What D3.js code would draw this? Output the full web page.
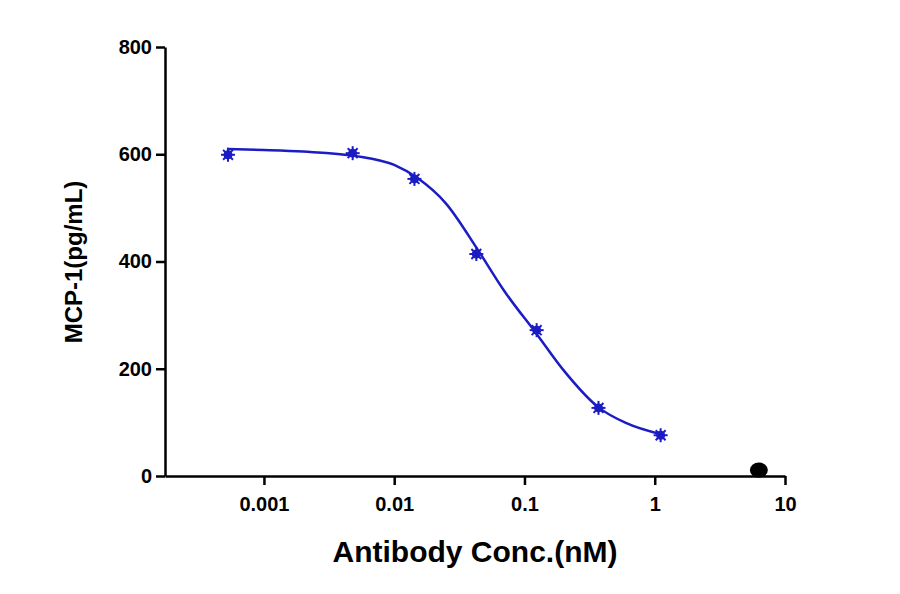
<!DOCTYPE html>
<html><head><meta charset="utf-8">
<script src="https://cdn.jsdelivr.net/npm/d3@7"></script>
<style>body{margin:0;background:#fff}text{font-family:"Liberation Sans",Arial,sans-serif;font-weight:bold}</style>
</head><body><svg id="c" width="900" height="594"></svg>
<script>
const pointsX=[0.00053,0.0048,0.0143,0.0427,0.124,0.37,1.11];
const pointsY=[599,602,554,414,272,127,76];
const curveX=[0.00052,0.001,0.002,0.005,0.01,0.015,0.025,0.043,0.07,0.124,0.2,0.37,0.6,1.15];
const curveY=[610,608,605,597,580,556,508,425,345,265,197,128,99,77];
const outlierX=[6.3], outlierY=[11];
const xTicks=[0.001,0.01,0.1,1,10];
const yTicks=[0,200,400,600,800];
const color="#1c1cc4";
const svg=d3.select("#c");
const x=d3.scaleLog().domain([0.000174,10]).range([165,785]);
const y=d3.scaleLinear().domain([0,800]).range([476,47]);
const xa=svg.append("g").attr("transform","translate(0,476)").call(d3.axisBottom(x).tickValues(xTicks).tickFormat(d=>String(d)).tickSize(9).tickSizeOuter(0));
const ya=svg.append("g").attr("transform","translate(165,0)").call(d3.axisLeft(y).tickValues(yTicks).tickSize(9).tickSizeOuter(0));
[xa,ya].forEach(a=>{a.attr("font-size",null).attr("font-family",null);
 a.select(".domain").attr("stroke","#000").attr("stroke-width",2.5);
 a.selectAll(".tick line").attr("stroke","#000").attr("stroke-width",2.5);
 a.selectAll(".tick text").style("font-size","20px").attr("fill","#000");});
xa.selectAll(".tick text").attr("dy","1.15em");
ya.selectAll(".tick text").attr("x",-13);
svg.append("text").attr("x",475).attr("y",562).attr("text-anchor","middle").style("font-size","30px").text("Antibody Conc.(nM)");
svg.append("text").attr("transform","translate(82,262) rotate(-90)").attr("text-anchor","middle").style("font-size","24px").text("MCP-1(pg/mL)");
svg.append("path").datum(curveX.map((d,i)=>[d,curveY[i]])).attr("fill","none").attr("stroke",color).attr("stroke-width",2.5)
 .attr("d",d3.line().x(d=>x(d[0])).y(d=>y(d[1])).curve(d3.curveMonotoneX));
const g=svg.append("g");
pointsX.forEach((d,i)=>{
 const cx=x(d),cy=y(pointsY[i]);
 g.append("circle").attr("cx",cx).attr("cy",cy).attr("r",4.5).attr("fill",color);
 for(let k=0;k<4;k++){const a=k*Math.PI/4;
  g.append("line").attr("x1",cx-7*Math.cos(a)).attr("y1",cy-7*Math.sin(a)).attr("x2",cx+7*Math.cos(a)).attr("y2",cy+7*Math.sin(a)).attr("stroke",color).attr("stroke-width",2);}
});
outlierX.forEach((d,i)=>svg.append("ellipse").attr("cx",x(d)).attr("cy",y(outlierY[i])).attr("rx",9).attr("ry",7.5).attr("fill","#000"));
</script></body></html>
